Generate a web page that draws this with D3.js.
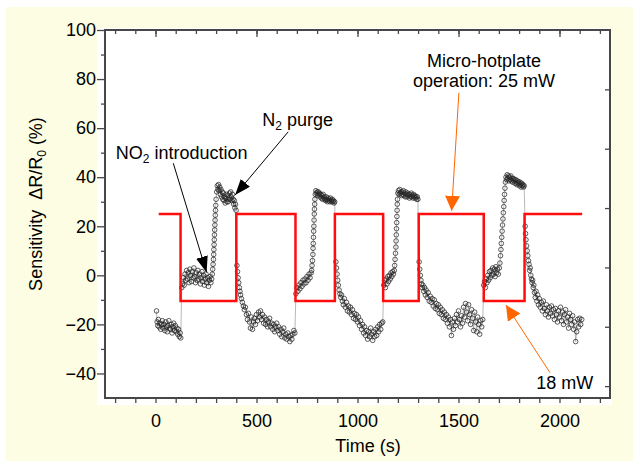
<!DOCTYPE html>
<html lang="en">
<head>
<meta charset="utf-8">
<title>Micro-hotplate NO2 sensor response</title>
<script src="https://cdn.jsdelivr.net/npm/d3@7/dist/d3.min.js"></script>
<style>
  body { margin: 0; background: #fff; }
  svg { display: block; font-family: "Liberation Sans", Arial, sans-serif; }
</style>
</head>
<body>
<svg width="633" height="461"></svg>
<script>
// sensor response, [time (s), sensitivity (%)]
var airStart = [[5,-14.5],[8,-19],[11,-20.5],[14,-18],[18,-21],[22,-19.5],[26,-22],[30,-20],[34,-18.5],[38,-21.5],[42,-20],[46,-22.5],[50,-19],[54,-21],[58,-23],[62,-20.5],[66,-18.5],[70,-21.5],[74,-22],[78,-20],[82,-23.5],[86,-21],[90,-19.5],[94,-22.5],[98,-20.5],[102,-23],[106,-21.5],[110,-24],[114,-22],[118,-25],[122,-23.5],[125,-25.5]];

var gas1 = [[130,-5],[134,-3.5],[138,-1],[142,-4],[146,0.5],[150,-2],[154,2],[158,-1.5],[162,1],[166,-3],[170,2.5],[174,0],[178,-2.5],[182,1.5],[186,-1],[190,3],[194,-0.5],[198,-3],[202,1],[206,-2],[210,2],[214,-1.5],[218,0.5],[222,-3.5],[226,-1],[230,1.5],[234,-2.5],[238,0],[242,-4],[246,-1.5],[250,0.5],[254,-3],[258,-1],[262,-4.5],[266,-2],[270,-0.5],[274,-3],[278,-1.5],
  [281,0.5],[283,2.5],[285,4.5],[287,6.5],[288,8.5],[289,10.5],[290,12.5],[291,14.5],[292,16.5],[293,18.5],[294,20.5],[295,22.5],[296,24.5],[297,26.5],[298,28.5],
  [300,31],[303,34],[306,36.5],[309,35],[312,37],[315,34.5],[318,36],[321,33],[324,35],[327,32],[330,34],[333,31],[336,33.5],[339,30.5],[342,32],[345,29.5],[348,31.5],[351,33],[354,30],[357,32.5],[360,30],[363,31],[366,33.5],[369,31],[372,34],[375,32],[378,30.5],[381,33],[384,31],[387,29],[390,30.5],[393,27.5],[396,29],[399,26.5]];

var purge1 = [[403,4],[406,1.5],[409,-1],[412,-3],[415,-5],[418,-6.5],[421,-8],[425,-9.5],[430,-11],[435,-12.5],[440,-14],[445,-13],[450,-16],[455,-18],[460,-15.5],[465,-19],[470,-21.5],[475,-17],[480,-22],[485,-19],[490,-17.5],[495,-20],[500,-16],[505,-18.5],[510,-15],[515,-17],[520,-14.5],[525,-18],[530,-16],[535,-19.5],[540,-17],[545,-20],[550,-18],[555,-21],[560,-19],[565,-17.5],[570,-21],[575,-19.5],[580,-22],[585,-20],[590,-23],[595,-21],[600,-19.5],[605,-22.5],[610,-21],[615,-24],[620,-22],[625,-25],[630,-23],[635,-21.5],[640,-25.5],[645,-24],[650,-26],[655,-23.5],[660,-25],[665,-27],[670,-24.5],[675,-26],[680,-24],[685,-22.5],[690,-23.5]];

var gas2 = [[695,-7.5],[700,-5],[705,-6.5],[710,-4],[715,-5.5],[720,-3],[725,-4.5],[730,-2],[735,-3.5],[740,-1.5],[745,-3],[750,-0.5],[755,-2],[760,0.5],[765,-1],[770,1],
  [773,2],[775,4],[777,6],[779,8.5],[780,11],[781,13],[782,15.5],[783,18],[784,20],[785,22.5],[786,25],[787,27],[788,29],[789,31],
  [791,33],[794,34.5],[797,33.5],[800,34],[803,32.5],[806,34],[809,33],[812,33.5],[815,32],[818,33],[821,31.5],[824,32.5],[827,31],[830,33],[833,31.5],[836,32],[839,31],[842,30.5],[845,32],[848,31],[851,30],[854,31.5],[857,30.5],[860,31],[863,30],[866,31.5],[869,30.5],[872,30],[875,31],[878,30],[881,30.5],[884,29.5],[887,30]];

var purge2 = [[893,5.5],[896,3],[899,0.5],[902,-2],[905,-4],[909,-6],[913,-7.5],[917,-9],[921,-8],[925,-10.5],[930,-12],[935,-9.5],[940,-13],[945,-11],[950,-14.5],[955,-12.5],[960,-15],[965,-13],[970,-16],[975,-14],[980,-17.5],[985,-15.5],[990,-18],[995,-16],[1000,-19],[1005,-17],[1010,-20.5],[1015,-18.5],[1020,-22],[1025,-20],[1030,-23.5],[1035,-21],[1040,-24.5],[1045,-22.5],[1050,-26],[1055,-23],[1060,-25],[1065,-21.5],[1070,-24],[1075,-26.5],[1080,-23],[1085,-25],[1090,-22],[1095,-24.5],[1100,-21],[1105,-23],[1110,-20],[1115,-22],[1120,-19.5],[1125,-19]];

var gas3 = [[1130,-4],[1134,-2],[1138,-5],[1142,-1.5],[1146,-3.5],[1150,-0.5],[1154,-2.5],[1158,0],[1162,-1.5],[1166,1],[1170,-0.5],[1174,1.5],[1178,0.5],
  [1182,2],[1184,4],[1186,6.5],[1188,9],[1190,11.5],[1191,14],[1192,16.5],[1193,19],[1194,21.5],[1195,24],[1196,26.5],[1197,29],[1198,31],
  [1200,33.5],[1203,34.5],[1206,33],[1209,35],[1212,33.5],[1215,34],[1218,32.5],[1221,34],[1224,33],[1227,34.5],[1230,32.5],[1233,33.5],[1236,32],[1239,34],[1242,33],[1245,32],[1248,33.5],[1251,32.5],[1254,33],[1257,31.5],[1260,33],[1263,32],[1266,33.5],[1269,32],[1272,32.5],[1275,31.5],[1278,33],[1281,32],[1284,32.5],[1287,31.5],[1290,32],[1293,31],[1296,32],[1299,31]];

var purge3 = [[1305,5.5],[1308,2.5],[1311,0],[1314,-2],[1317,-3.5],[1320,-5],[1324,-4],[1328,-6.5],[1332,-5],[1336,-8],[1340,-6],[1345,-9],[1350,-7],[1355,-10.5],[1360,-8.5],[1365,-11],[1370,-9.5],[1375,-12.5],[1380,-10],[1385,-13.5],[1390,-11.5],[1395,-14],[1400,-12],[1405,-15.5],[1410,-13],[1415,-16],[1420,-14],[1425,-17.5],[1430,-15],[1435,-18],[1440,-16],[1445,-19.5],[1450,-17],[1455,-21],[1460,-18],[1465,-24.5],[1470,-19],[1475,-22],[1480,-17.5],[1485,-20.5],[1490,-16],[1495,-19],[1500,-14.5],[1505,-18],[1510,-21],[1515,-16.5],[1520,-19.5],[1525,-13],[1530,-17],[1535,-11.5],[1540,-15],[1545,-18.5],[1550,-12],[1555,-16],[1560,-20],[1565,-14],[1570,-17.5],[1575,-22.5],[1580,-15],[1585,-19],[1590,-23],[1595,-17],[1600,-20],[1605,-24],[1610,-18.5],[1615,-21],[1620,-18]];

var gas4 = [[1625,-4],[1629,-2.5],[1633,-5],[1637,-1.5],[1641,-3],[1645,0],[1649,-2],[1653,1.5],[1657,-1],[1661,2],[1665,0],[1669,3],[1673,0.5],[1677,2.5],[1681,-0.5],[1685,3.5],[1689,1],[1693,2.5],[1697,0.5],
  [1702,3],[1705,5],[1708,8],[1710,10.5],[1712,13],[1714,15.5],[1716,18],[1718,20.5],[1720,23],[1722,25.5],[1724,28],[1726,30.5],[1728,33],[1730,35.5],
  [1732,38],[1735,40],[1738,39],[1741,41],[1744,39.5],[1747,40.5],[1750,38.5],[1753,40],[1756,39],[1759,40.5],[1762,38.5],[1765,39.5],[1768,38],[1771,39.5],[1774,38.5],[1777,39],[1780,37.5],[1783,39],[1786,38],[1789,37],[1792,38.5],[1795,37.5],[1798,38],[1801,36.5],[1804,38],[1807,37],[1810,36],[1813,37.5],[1816,36.5],[1819,37],[1822,36],[1825,36.5]];

var purge4 = [[1830,20],[1832,17],[1834,14.5],[1837,12],[1840,10],[1843,8],[1846,6],[1849,4.5],[1852,2],[1855,3],[1858,0],[1861,-1.5],[1864,-3],[1867,-2],[1870,-5],[1873,-4],[1876,-7],[1880,-9],[1884,-6.5],[1888,-10.5],[1892,-8],[1896,-12],[1900,-9.5],[1905,-13],[1910,-11],[1915,-14.5],[1920,-10.5],[1925,-13.5],[1930,-16],[1935,-12],[1940,-14.5],[1945,-17],[1950,-13],[1955,-15.5],[1960,-12.5],[1965,-16.5],[1970,-14],[1975,-18],[1980,-13.5],[1985,-16],[1990,-19],[1995,-14.5],[2000,-17],[2005,-13],[2010,-18.5],[2015,-15],[2020,-20],[2025,-16],[2030,-14],[2035,-19],[2040,-17],[2045,-21.5],[2050,-15.5],[2055,-18],[2060,-20],[2065,-16.5],[2070,-22],[2075,-19],[2080,-27],[2085,-23],[2090,-18],[2095,-21],[2100,-17.5],[2105,-20],[2110,-18]];

// heater power trace (drawn on the left scale)
var powerTime  = [16, 124, 400, 693, 888, 1127, 1303, 1625, 1827, 2112];
var powerLevel = [25, -10.5, 25, -10.5, 25, -10.5, 25, -10.5, 25, 25];

var xTicks = [0, 500, 1000, 1500, 2000];
var yTicks = [-40, -20, 0, 20, 40, 60, 80, 100];
var powerTicks = [0, 5, 10, 15, 20, 25];

var svg = d3.select('svg'),
    margin = {left: 105, right: 23, top: 30, bottom: 63},
    width = 633 - margin.left - margin.right,
    height = 461 - margin.top - margin.bottom;

var axisColor = '#474747', fontSize = '18px';

var x = d3.scaleLinear().domain([-250, 2250]).range([0, width]),
    y = d3.scaleLinear().domain([-50, 100]).range([height, 0]),
    yPower = d3.scaleLinear().domain([-1, 30]).range([height, 0]);

// pale yellow page + white plot panel
svg.append('rect').attr('x', 6).attr('y', 7).attr('width', 627).attr('height', 454).attr('fill', '#fdfde3');

var g = svg.append('g').attr('transform', 'translate(' + margin.left + ',' + margin.top + ')');

g.append('rect').attr('x', -8).attr('y', -2).attr('width', width + 10).attr('height', height + 9).attr('fill', '#fff');

function styleAxis(sel) {
    sel.select('.domain').remove();
    sel.selectAll('line').attr('stroke', axisColor).attr('stroke-width', 1.3);
    sel.selectAll('text').attr('fill', '#000').attr('font-size', fontSize)
        .attr('font-family', '"Liberation Sans", Arial, sans-serif');
}

// bottom
g.append('g')
    .attr('transform', 'translate(0,' + height + ')')
    .call(d3.axisBottom(x).tickValues(d3.range(-200, 2201, 100)).tickSize(5).tickPadding(11)
        .tickFormat(function(d) { return xTicks.indexOf(d) >= 0 ? d : ''; }))
    .call(styleAxis);

// top, inward
g.append('g')
    .call(d3.axisBottom(x).tickValues(d3.range(-200, 2201, 100)).tickSize(4).tickFormat(''))
    .call(styleAxis);
g.append('g')
    .call(d3.axisBottom(x).tickValues(xTicks).tickSize(7).tickFormat(''))
    .call(styleAxis);

// left
g.append('g')
    .call(d3.axisLeft(y).tickValues(yTicks).tickSize(8).tickPadding(1))
    .call(styleAxis);
g.append('g')
    .call(d3.axisLeft(y).tickValues(d3.range(-30, 91, 20)).tickSize(4).tickFormat(''))
    .call(styleAxis);

// right, inward, unlabelled
g.append('g')
    .attr('transform', 'translate(' + width + ',0)')
    .call(d3.axisLeft(yPower).tickValues(powerTicks).tickSize(5).tickFormat(''))
    .call(styleAxis);

// sensor data
var pts = [].concat(airStart, gas1, purge1, gas2, purge2, gas3, purge3, gas4, purge4);

var line = d3.line()
    .x(function(d) { return x(d[0]); })
    .y(function(d) { return y(d[1]); });

g.append('path')
    .datum(pts)
    .attr('d', line)
    .attr('fill', 'none')
    .attr('stroke', '#9a9a9a')
    .attr('stroke-width', 0.7);

g.selectAll('.pt')
    .data(pts)
    .enter().append('circle')
    .attr('class', 'pt')
    .attr('cx', function(d) { return x(d[0]); })
    .attr('cy', function(d) { return y(d[1]); })
    .attr('r', 2.3)
    .attr('fill', 'none')
    .attr('stroke', '#262626')
    .attr('stroke-width', 0.75);

// heater power step
var power = powerTime.map(function(t, i) { return [t, powerLevel[i]]; });
g.append('path')
    .datum(power)
    .attr('d', d3.line().curve(d3.curveStepAfter)
        .x(function(d) { return x(d[0]); })
        .y(function(d) { return y(d[1]); }))
    .attr('fill', 'none')
    .attr('stroke', '#ff0d0d')
    .attr('stroke-width', 2.5);

// frame
g.append('rect')
    .attr('width', width).attr('height', height)
    .attr('fill', 'none').attr('stroke', axisColor).attr('stroke-width', 2);

// axis titles
svg.append('text')
    .attr('x', 368).attr('y', 452)
    .attr('text-anchor', 'middle').attr('font-size', fontSize)
    .text('Time (s)');

var yl = svg.append('text')
    .attr('transform', 'translate(42,204) rotate(-90)')
    .attr('text-anchor', 'middle').attr('font-size', fontSize);
yl.append('tspan').text('Sensitivity\u00a0\u00a0\u0394R/R');
yl.append('tspan').attr('font-size', '12px').attr('dy', 4).text('0');
yl.append('tspan').attr('dy', -4).text(' (%)');

// annotations
var defs = svg.append('defs');
function head(id, color, w, h) {
    defs.append('marker')
        .attr('id', id)
        .attr('viewBox', '0 0 10 10')
        .attr('preserveAspectRatio', 'none')
        .attr('refX', 10).attr('refY', 5)
        .attr('markerUnits', 'userSpaceOnUse')
        .attr('markerWidth', w).attr('markerHeight', h)
        .attr('orient', 'auto')
        .append('path').attr('d', 'M0,0L10,5L0,10Z').attr('fill', color);
}
head('hk', '#000', 16, 12);
head('ho', '#ff6600', 15, 15);

// [from time, from value, to time, to value]
var arrows = [
    {from: [657, 58.5], to: [394, 32.7], color: '#000', m: 'hk'},
    {from: [88, 45.7], to: [253, 1.2], color: '#000', m: 'hk'},
    {from: [1502, 74.4], to: [1466, 26.3], color: '#ff6600', m: 'ho'},
    {from: [1953, -39.7], to: [1735, -12.1], color: '#ff6600', m: 'ho'}
];
g.selectAll('.arrow')
    .data(arrows)
    .enter().append('line')
    .attr('class', 'arrow')
    .attr('x1', function(d) { return x(d.from[0]); })
    .attr('y1', function(d) { return y(d.from[1]); })
    .attr('x2', function(d) { return x(d.to[0]); })
    .attr('y2', function(d) { return y(d.to[1]); })
    .attr('stroke', function(d) { return d.color; })
    .attr('stroke-width', 1)
    .attr('marker-end', function(d) { return 'url(#' + d.m + ')'; });

function label(t, v, anchor) {
    return g.append('text')
        .attr('x', x(t)).attr('y', y(v))
        .attr('text-anchor', anchor)
        .attr('font-size', fontSize);
}

var n2 = label(529, 60.9, 'start');
n2.append('tspan').text('N');
n2.append('tspan').attr('font-size', '12px').attr('dy', 4).text('2');
n2.append('tspan').attr('dy', -4).text(' purge');

var no2 = label(-197, 47.3, 'start');
no2.append('tspan').text('NO');
no2.append('tspan').attr('font-size', '12px').attr('dy', 4).text('2');
no2.append('tspan').attr('dy', -4).text(' introduction');

label(1626, 85, 'middle').text('Micro-hotplate');
label(1626, 76.6, 'middle').text('operation: 25 mW');
label(1885, -46.5, 'start').text('18 mW');
</script>
</body>
</html>
